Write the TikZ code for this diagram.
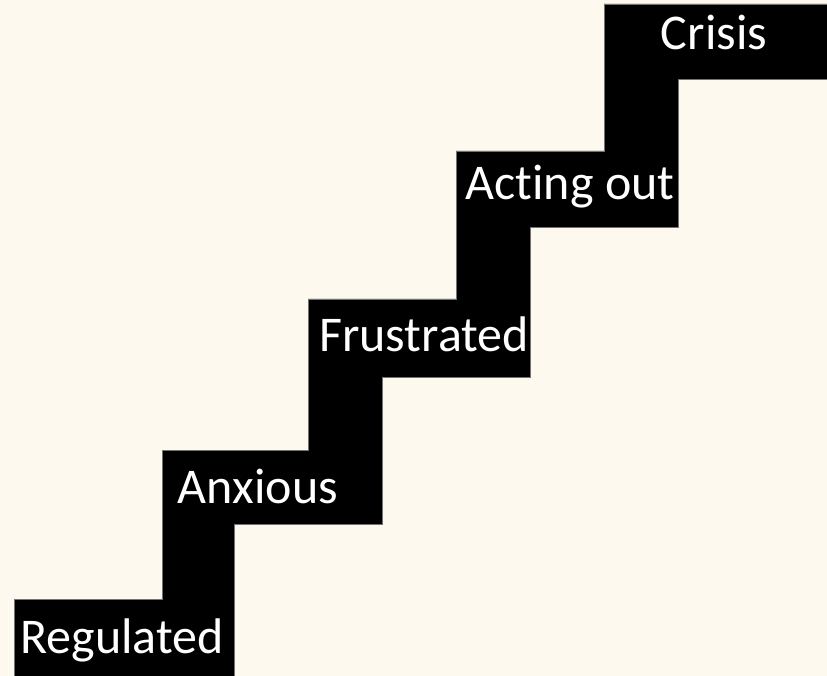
\documentclass[tikz,border=0pt]{standalone}
\usepackage{fontspec}
\setmainfont[Ligatures={NoCommon}]{Carlito}
\definecolor{cream}{HTML}{FEF9EE}
\begin{document}
\begin{tikzpicture}[x=1pt,y=-1pt,
  steplabel/.style={anchor=base,text=white,font=\fontsize{50}{56}\selectfont,inner sep=0pt}]
\fill[cream] (0,0) rectangle (827,676);
\useasboundingbox (0,0) rectangle (827,676);
\filldraw[fill=black,draw=black!55,line width=0.8pt]
 (14,677) -- (14,599) -- (162,599) -- (162,450) -- (308,450) -- (308,299) -- (456,299)
 -- (456,151) -- (604,151) -- (604,4) -- (828,4) -- (828,79) -- (678,79) -- (678,227)
 -- (530,227) -- (530,377) -- (382,377) -- (382,524) -- (234,524) -- (234,677) -- cycle;
\node[steplabel] (reg) at (122,653) {Regulated};
\node[steplabel] (anx) at (258,503) {Anxious};
\node[steplabel] (fru) at (424,351) {Frustrated};
\node[steplabel] (act) at (570,200) {Acting out};
\node[steplabel] (cri) at (714,50) {Crisis};
\end{tikzpicture}
\end{document}
